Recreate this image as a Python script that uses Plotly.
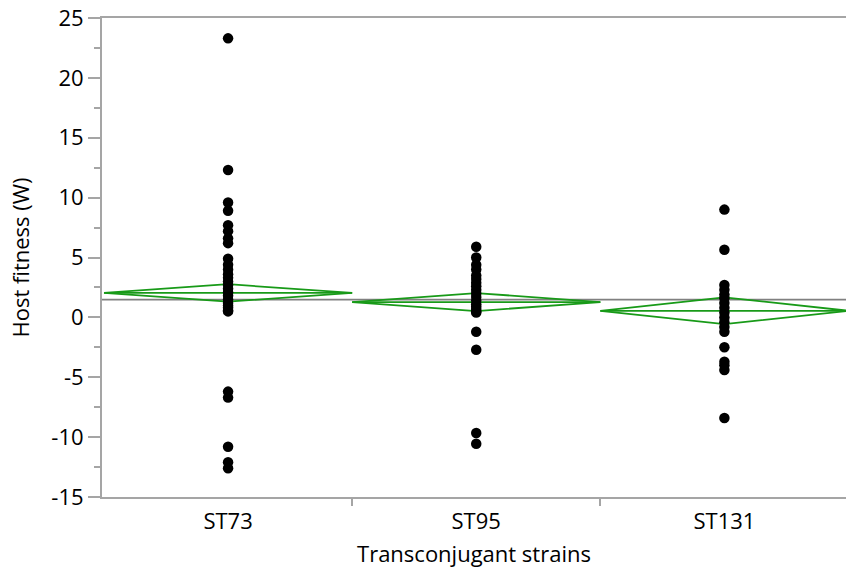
import plotly.graph_objects as go

categories = ["ST73", "ST95", "ST131"]

st73 = [23.3, 12.3, 9.6, 8.9, 7.7, 7.2, 6.6, 6.2, 4.9, 4.4, 4.0, 3.6, 3.3, 3.0,
        2.7, 2.4, 2.1, 1.8, 1.5, 1.2, 1.0, 0.8, 0.6, 0.5,
        -6.2, -6.7, -10.8, -12.1, -12.6]
st95 = [5.9, 5.0, 4.4, 4.0, 3.5, 3.2, 2.9, 2.6, 2.3, 2.0, 1.7, 1.4, 1.1, 0.9,
        0.7, 0.5, 0.4, -1.2, -2.7, -9.65, -10.55]
st131 = [9.0, 5.65, 2.7, 2.3, 1.9, 1.6, 1.2, 0.8, 0.4, 0.0, -0.4, -0.8, -1.2,
         -2.5, -3.7, -4.0, -4.4, -8.4]
series = [st73, st95, st131]

group_means = [2.04, 1.28, 0.55]
ci_half = [0.73, 0.75, 1.12]
grand_mean = 1.48

y_ticks = [-15, -10, -5, 0, 5, 10, 15, 20, 25]
y_tick_text = ["-15", "-10", "-5", "0", "5", "10", "15", "20", "25"]

GREEN = "rgb(24,154,24)"
AXIS = "rgb(165,165,165)"
FONT = "Open Sans, Noto Sans, sans-serif"
FS = 22

fig = go.Figure()

# grand mean line
fig.add_trace(go.Scatter(x=[-0.6, 2.6], y=[grand_mean, grand_mean], mode="lines",
                         line=dict(color="rgb(128,128,128)", width=1.6),
                         hoverinfo="skip", showlegend=False))

# means diamonds
for i, (m, h) in enumerate(zip(group_means, ci_half)):
    fig.add_trace(go.Scatter(
        x=[i - 0.5, i, i + 0.5, i, i - 0.5],
        y=[m, m + h, m, m - h, m],
        mode="lines", line=dict(color=GREEN, width=1.8),
        hoverinfo="skip", showlegend=False))
    fig.add_trace(go.Scatter(
        x=[i - 0.5, i + 0.5], y=[m, m],
        mode="lines", line=dict(color=GREEN, width=1.8),
        hoverinfo="skip", showlegend=False))

# points
for i, vals in enumerate(series):
    fig.add_trace(go.Scatter(
        x=[i] * len(vals), y=vals, mode="markers",
        marker=dict(color="black", size=10.5, line=dict(width=0)),
        name=categories[i], showlegend=False))

# invisible trace to activate boundary-tick axis
fig.add_trace(go.Scatter(x=[0], y=[0], xaxis="x2", mode="markers",
                         marker=dict(opacity=0), hoverinfo="skip", showlegend=False))

fig.update_layout(
    width=846, height=572,
    margin=dict(l=102, r=0, t=18, b=75),
    plot_bgcolor="white", paper_bgcolor="white",
    font=dict(family=FONT, size=FS, color="black"),
    xaxis=dict(
        range=[-0.508, 2.49],
        tickmode="array", tickvals=[0, 1, 2], ticktext=categories,
        tickfont=dict(size=FS),
        ticks="", showgrid=False, zeroline=False,
        showline=True, linecolor=AXIS, linewidth=2, mirror=True,
        title=dict(text="Transconjugant strains", standoff=12,
                   font=dict(size=FS)),
        ticklabelstandoff=4,
    ),
    xaxis2=dict(
        overlaying="x", matches="x", side="bottom",
        tickmode="array", tickvals=[0.5, 1.5], ticktext=["", ""],
        ticks="outside", ticklen=8, tickwidth=1.5, tickcolor=AXIS,
        showgrid=False, zeroline=False, showline=False,
    ),
    yaxis=dict(
        range=[-15, 25],
        tickmode="array", tickvals=y_ticks, ticktext=y_tick_text,
        tickfont=dict(size=FS),
        ticks="outside", ticklen=12, tickwidth=1.5, tickcolor=AXIS,
        minor=dict(dtick=2.5, tick0=0, ticks="outside", ticklen=6,
                   tickwidth=1.5, tickcolor=AXIS, showgrid=False),
        showgrid=False, zeroline=False,
        showline=True, linecolor=AXIS, linewidth=2,
        title=dict(text="Host fitness (W)", standoff=16, font=dict(size=FS)),
    ),
)

fig.write_html("out.html")
